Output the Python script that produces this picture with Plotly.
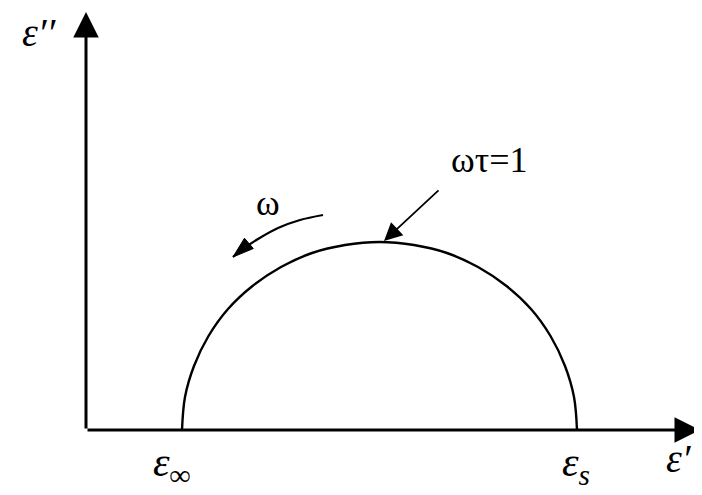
import plotly.graph_objects as go

# Cole-Cole (Debye) semicircle (screen-like units, y grows downward)
eps_real = [182, 185, 194, 208.5, 228, 252.5, 281, 312, 345, 379.5,
            414, 447, 478, 506.5, 531, 550.5, 565, 574, 577]
eps_imag = [430, 397, 366, 336, 309, 286, 267, 253, 245, 242,
            245, 253, 267, 286, 309, 336, 366, 397, 430]

# curved "increasing omega" arrow
omega_x = [323, 300, 278, 258, 240, 233]
omega_y = [215, 220, 228, 239, 251, 257]

axis_origin = (86, 430)
x_axis_end = 700
y_axis_end = 12

tick_labels = ["ε<sub>∞</sub>", "ε<sub><i>s</i></sub>"]
tick_pos = [172, 576]

# the page body adds an 8px margin, so the plot is shifted back by it
PAGE_PAD = 8

fig = go.Figure()
fig.add_trace(go.Scatter(x=eps_real, y=eps_imag, mode="lines",
                         line=dict(color="black", width=2.4, shape="spline"),
                         hoverinfo="skip"))
fig.add_trace(go.Scatter(x=omega_x, y=omega_y, mode="lines+markers",
                         line=dict(color="black", width=2.2, shape="spline"),
                         marker=dict(symbol="arrow", size=[0] * (len(omega_x) - 1) + [22],
                                     angleref="previous", color="black", opacity=1,
                                     line=dict(color="black", width=1)),
                         hoverinfo="skip"))

# axes with arrow heads
ox, oy = axis_origin
for tx, ty in [(x_axis_end, oy), (ox, y_axis_end)]:
    fig.add_annotation(x=tx, y=ty, ax=ox, ay=oy, xref="x", yref="y",
                       axref="x", ayref="y", text="", showarrow=True,
                       arrowhead=2, arrowsize=1.7, arrowwidth=3,
                       arrowcolor="black")

# pointer to omega*tau = 1
fig.add_annotation(x=384, y=241, ax=440, ay=189, xref="x", yref="y",
                   axref="x", ayref="y", text="", showarrow=True,
                   arrowhead=2, arrowsize=2, arrowwidth=1.8,
                   arrowcolor="black")

serif = "Liberation Serif"
texts = [
    (489, 160, "ωτ=1", serif, 36),
    (268, 203, "ω", serif, 36),
    (39, 32, "<i>ε′′</i>", serif, 40),
    (679, 458, "<i>ε′</i>", serif, 40),
]
for x, y, t, f, s in texts:
    fig.add_annotation(x=x, y=y, text=t, showarrow=False,
                       font=dict(family=f, size=s, color="black"))
for x, t in zip(tick_pos, tick_labels):
    fig.add_annotation(x=x, y=465, text="<i>" + t + "</i>", showarrow=False,
                       font=dict(family=serif, size=42, color="black"))

fig.update_xaxes(range=[PAGE_PAD, 702], visible=False)
fig.update_yaxes(range=[495, PAGE_PAD], visible=False)
fig.update_layout(width=702 - PAGE_PAD, height=495 - PAGE_PAD,
                  margin=dict(l=0, r=0, t=0, b=0),
                  showlegend=False, plot_bgcolor="white", paper_bgcolor="white")

fig.write_html("out.html")
